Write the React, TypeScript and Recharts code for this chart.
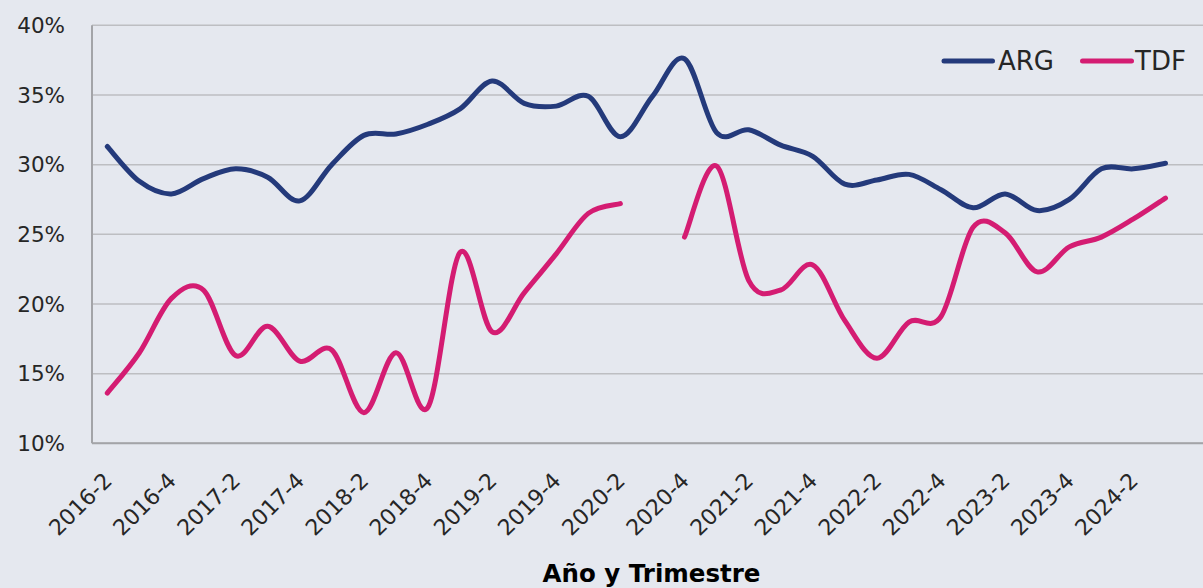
import React from 'react';
import { LineChart, Line, XAxis, YAxis, CartesianGrid, Legend, Label } from 'recharts';

const BG = '#E5E8EF';
const ARG_COLOR = '#243A7B';
const TDF_COLOR = '#D41C72';
const FONT = "'DejaVu Sans', sans-serif";

const categories = [
  '2016-2', '2016-3', '2016-4',
  '2017-1', '2017-2', '2017-3', '2017-4',
  '2018-1', '2018-2', '2018-3', '2018-4',
  '2019-1', '2019-2', '2019-3', '2019-4',
  '2020-1', '2020-2', '2020-3', '2020-4',
  '2021-1', '2021-2', '2021-3', '2021-4',
  '2022-1', '2022-2', '2022-3', '2022-4',
  '2023-1', '2023-2', '2023-3', '2023-4',
  '2024-1', '2024-2', '2024-3',
];

const argValues = [
  31.3, 28.8, 27.9,
  29.0, 29.7, 29.1, 27.4,
  30.0, 32.1, 32.2, 32.9,
  34.0, 36.0, 34.4, 34.2,
  34.9, 32.0, 34.9, 37.6,
  32.3, 32.5, 31.4, 30.6,
  28.6, 28.9, 29.3, 28.2,
  26.9, 27.9, 26.7, 27.5,
  29.7, 29.7, 30.1,
];

const tdfValues: (number | null)[] = [
  13.6, 16.5, 20.4,
  21.0, 16.3, 18.4, 15.9,
  16.7, 12.2, 16.5, 12.6,
  23.7, 18.0, 20.8, 23.6,
  26.5, 27.2, null, 24.8,
  29.9, 21.7, 21.0, 22.8,
  18.8, 16.1, 18.7, 19.1,
  25.5, 25.1, 22.3, 24.1,
  24.8, 26.1, 27.6,
];

const yTicks = [10, 15, 20, 25, 30, 35, 40];

const data = categories.map((c, i) => ({ period: c, ARG: argValues[i], TDF: tdfValues[i] }));

if (typeof document !== 'undefined') {
  document.body.style.margin = '0';
  document.body.style.background = BG;
}

// Excel-like smoothed line (Catmull-Rom through the points)
const excelSmooth = (context: any) => {
  let pts: number[][] = [];
  return {
    areaStart() {},
    areaEnd() {},
    lineStart() {
      pts = [];
    },
    lineEnd() {
      const n = pts.length;
      if (n === 0) return;
      context.moveTo(pts[0][0], pts[0][1]);
      if (n === 1) {
        context.lineTo(pts[0][0], pts[0][1]);
        return;
      }
      for (let i = 0; i < n - 1; i++) {
        const p0 = pts[i - 1] || pts[i];
        const p1 = pts[i];
        const p2 = pts[i + 1];
        const p3 = pts[i + 2] || p2;
        const c1x = p1[0] + (p2[0] - p0[0]) / 6;
        const c1y = p1[1] + (p2[1] - p0[1]) / 6;
        const c2x = p2[0] - (p3[0] - p1[0]) / 6;
        const c2y = p2[1] - (p3[1] - p1[1]) / 6;
        context.bezierCurveTo(c1x, c1y, c2x, c2y, p2[0], p2[1]);
      }
    },
    point(x: number, y: number) {
      pts.push([+x, +y]);
    },
  };
};

const XTick = (props: any) => {
  const { x, y, payload } = props;
  return (
    <g transform={`translate(${x + 6},${y + 38.7})`}>
      <text
        x={0}
        y={0}
        textAnchor="end"
        transform="rotate(-45)"
        fontSize={22}
        fontFamily={FONT}
        fill="#262626"
      >
        {payload.value}
      </text>
    </g>
  );
};

const renderLegend = () => (
  <svg width={262} height={40} style={{ display: 'block' }}>
    <line x1={6} y1={20} x2={54.5} y2={20} stroke={ARG_COLOR} strokeWidth={5} strokeLinecap="round" />
    <text x={60} y={29} fontSize={26} fontFamily={FONT} fill="#262626">ARG</text>
    <line x1={144.5} y1={20} x2={193.5} y2={20} stroke={TDF_COLOR} strokeWidth={5} strokeLinecap="round" />
    <text x={197} y={29} fontSize={26} fontFamily={FONT} fill="#262626">TDF</text>
  </svg>
);

export default function App() {
  return (
    <div style={{ width: 1203, height: 588, overflow: 'hidden', background: BG, position: 'relative' }}>
      <LineChart
        width={1203}
        height={588}
        data={data}
        margin={{ top: 25.3, right: 0, bottom: 0, left: 0 }}
      >
        <CartesianGrid horizontal vertical={false} stroke="#BDBEC2" strokeWidth={1.5} />
        <XAxis
          dataKey="period"
          interval={1}
          height={144.7}
          padding={{ left: 15.3, right: 37.5 }}
          tickLine={false}
          tickSize={0}
          tickMargin={0}
          axisLine={{ stroke: '#A3A4A8', strokeWidth: 2 }}
          tick={<XTick />}
        >
          <Label
            value="Año y Trimestre"
            position="insideBottom"
            offset={6}
            dx={4}
            style={{ fontSize: 24.5, fontWeight: 700, fontFamily: FONT, fill: '#000000' }}
          />
        </XAxis>
        <YAxis
          width={92}
          domain={[10, 40]}
          ticks={yTicks}
          interval={0}
          tickFormatter={(v: number) => `${v}%`}
          tickLine={false}
          tickSize={0}
          tickMargin={27}
          axisLine={{ stroke: '#A3A4A8', strokeWidth: 2 }}
          tick={{ fontSize: 21.5, fontFamily: FONT, fill: '#262626' }}
        />
        <Legend
          layout="vertical"
          align="center"
          verticalAlign="middle"
          content={renderLegend}
          wrapperStyle={{ top: 41, left: 938, width: 262, height: 40 }}
        />
        <Line
          type={excelSmooth as any}
          dataKey="ARG"
          stroke={ARG_COLOR}
          strokeWidth={5}
          strokeLinecap="round"
          dot={false}
          activeDot={false}
          isAnimationActive={false}
        />
        <Line
          type={excelSmooth as any}
          dataKey="TDF"
          stroke={TDF_COLOR}
          strokeWidth={5}
          strokeLinecap="round"
          dot={false}
          activeDot={false}
          connectNulls={false}
          isAnimationActive={false}
        />
      </LineChart>
    </div>
  );
}
